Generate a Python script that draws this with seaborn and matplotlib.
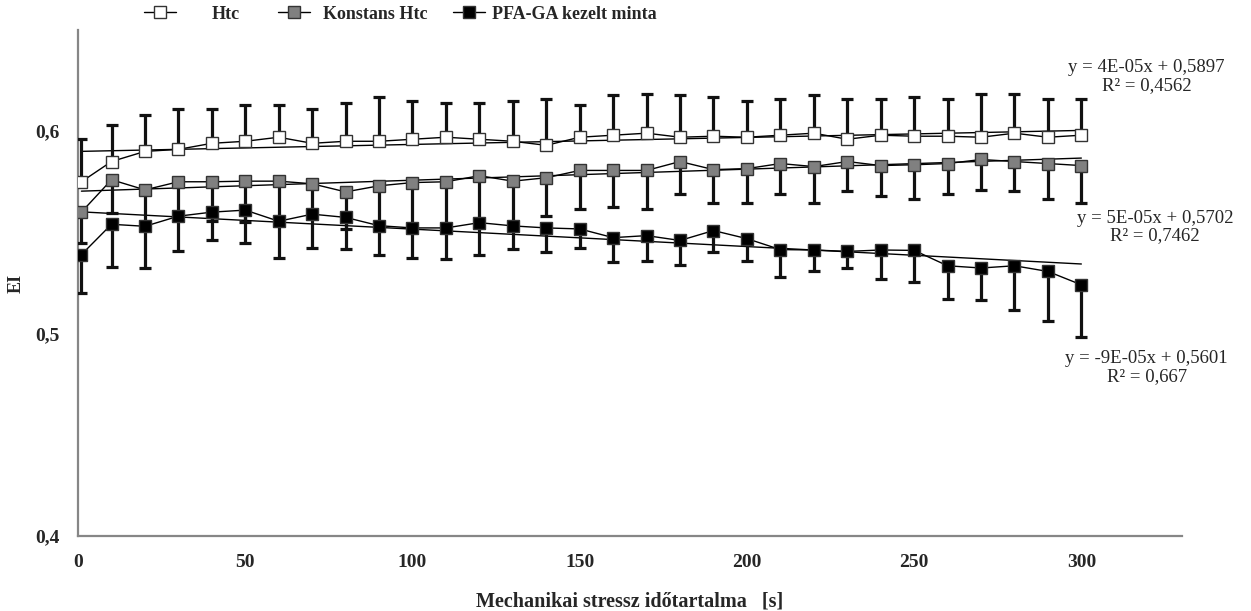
import numpy as np
import pandas as pd
import matplotlib
matplotlib.use("Agg")
import matplotlib.pyplot as plt
from matplotlib.lines import Line2D
import seaborn as sns

# Adatok (leolvasva az abrarol)
time_s = [1, 10, 20, 30, 40, 50, 60, 70, 80, 90, 100, 110, 120, 130, 140, 150,
          160, 170, 180, 190, 200, 210, 220, 230, 240, 250, 260, 270, 280, 290, 300]

htc_mean = [0.575, 0.585, 0.590, 0.591, 0.594, 0.595, 0.597, 0.594, 0.595, 0.595, 0.596,
            0.597, 0.596, 0.595, 0.593, 0.597, 0.598, 0.599, 0.597, 0.5975, 0.597,
            0.598, 0.599, 0.596, 0.598, 0.5975, 0.5975, 0.597, 0.599, 0.597, 0.598]
htc_err = [0.021, 0.018, 0.018, 0.020, 0.017, 0.018, 0.016, 0.017, 0.019, 0.022, 0.019,
           0.017, 0.018, 0.020, 0.023, 0.016, 0.020, 0.0195, 0.021, 0.0195, 0.018,
           0.018, 0.019, 0.020, 0.018, 0.0195, 0.0185, 0.0215, 0.0195, 0.019, 0.018]

konst_mean = [0.560, 0.576, 0.571, 0.575, 0.575, 0.5753, 0.5753, 0.574, 0.570, 0.573, 0.5746,
              0.575, 0.578, 0.5753, 0.577, 0.5806, 0.5806, 0.5806, 0.585, 0.581, 0.5815,
              0.584, 0.5825, 0.585, 0.583, 0.5834, 0.584, 0.586, 0.585, 0.584, 0.583]
konst_err = [0.0154, 0.0164, 0.0174, 0.017, 0.0195, 0.020, 0.020, 0.015, 0.0183, 0.020, 0.022,
             0.023, 0.023, 0.022, 0.019, 0.019, 0.0183, 0.019, 0.0162, 0.0164, 0.0169,
             0.0152, 0.0179, 0.0148, 0.015, 0.0169, 0.0152, 0.0152, 0.0148, 0.0175, 0.0184]

pfa_mean = [0.539, 0.554, 0.553, 0.558, 0.560, 0.561, 0.5555, 0.559, 0.5574, 0.5533, 0.5522,
            0.5522, 0.5548, 0.5532, 0.5522, 0.5517, 0.5474, 0.5484, 0.546, 0.5509, 0.5469,
            0.5415, 0.5413, 0.5406, 0.5413, 0.5411, 0.5335, 0.5324, 0.5335, 0.5307, 0.5241]
pfa_err = [0.019, 0.021, 0.0206, 0.017, 0.014, 0.0164, 0.018, 0.0168, 0.0156, 0.0145, 0.0148,
           0.0155, 0.016, 0.0116, 0.0121, 0.0094, 0.0122, 0.0124, 0.0121, 0.0106, 0.0109,
           0.0134, 0.0104, 0.008, 0.0145, 0.0158, 0.0163, 0.0158, 0.0217, 0.0245, 0.0258]

labels = ["Htc", "Konstans Htc", "PFA-GA kezelt minta"]
face_colors = ["white", "#808080", "black"]
eq_texts = ["y = 4E-05x + 0,5897\nR\u00b2 = 0,4562",
            "y = 5E-05x + 0,5702\nR\u00b2 = 0,7462",
            "y = -9E-05x + 0,5601\nR\u00b2 = 0,667"]
eq_pos = [(319.5, 0.6271), (322, 0.5526), (319.5, 0.4833)]

sns.set_style("white")
plt.rcParams['font.family'] = ['Liberation Serif', 'DejaVu Serif']

fig = plt.figure(figsize=(12.51, 6.11), dpi=100)
ax = fig.add_axes([0.0624, 0.1227, 0.8822, 0.8283])

means = [htc_mean, konst_mean, pfa_mean]
zeros = [0.0] * len(time_s)
errs = [[zeros, htc_err], [konst_err, zeros], [pfa_err, zeros]]

for i, lab in enumerate(labels):
    df = pd.DataFrame({"t": time_s, "ei": means[i]})
    # trendvonal
    sns.regplot(data=df, x="t", y="ei", scatter=False, ci=None, truncate=True,
                ax=ax, line_kws=dict(color="black", lw=1.0, zorder=2))
    ax.errorbar(time_s, means[i], yerr=errs[i], fmt="none", ecolor="#111111",
                elinewidth=2.3, capsize=4, capthick=2.3, zorder=3 + 2 * i)
    sns.lineplot(data=df, x="t", y="ei", ax=ax, color="black", lw=1.0,
                 marker="s", markersize=8.5, markerfacecolor=face_colors[i],
                 markeredgecolor="#333333", markeredgewidth=1.0,
                 sort=False, zorder=4 + 2 * i)
    ax.text(eq_pos[i][0], eq_pos[i][1], eq_texts[i], ha="center", va="center",
            fontsize=13.5, linespacing=1.05)

ax.set_xlim(0, 330)
ax.set_ylim(0.4, 0.65)
ax.set_xticks([0, 50, 100, 150, 200, 250, 300])
ax.set_yticks([0.4, 0.5, 0.6])
ax.set_yticklabels(["0,4", "0,5", "0,6"])
ax.tick_params(axis="both", which="both", direction="out", length=5, width=1.3,
               color="#868686", labelsize=14, pad=8)
for t in ax.get_xticklabels() + ax.get_yticklabels():
    t.set_fontweight("bold")
sns.despine(ax=ax)
for s in ["left", "bottom"]:
    ax.spines[s].set_color("#868686")
    ax.spines[s].set_linewidth(1.6)

ax.set_xlabel("Mechanikai stressz időtartalma   [s]", fontsize=14.5, fontweight="bold", labelpad=15)
ax.set_ylabel("EI", fontsize=13, fontweight="bold", labelpad=8)

# jelmagyarazat: harom kulon bejegyzes, mint az eredetin
leg_x = [0.115, 0.222, 0.362]
leg_pad = [1.95, 0.7, 0.35]
for i, lab in enumerate(labels):
    h = Line2D([0], [0], color="black", lw=1.0, marker="s", markersize=8.5,
               markerfacecolor=face_colors[i], markeredgecolor="#333333")
    leg = fig.legend([h], [lab], loc="center left", bbox_to_anchor=(leg_x[i], 0.977),
                     frameon=False, handlelength=1.8, handletextpad=leg_pad[i],
                     borderpad=0, borderaxespad=0, prop=dict(weight="bold", size=13))

fig.savefig("out.png", dpi=100)
